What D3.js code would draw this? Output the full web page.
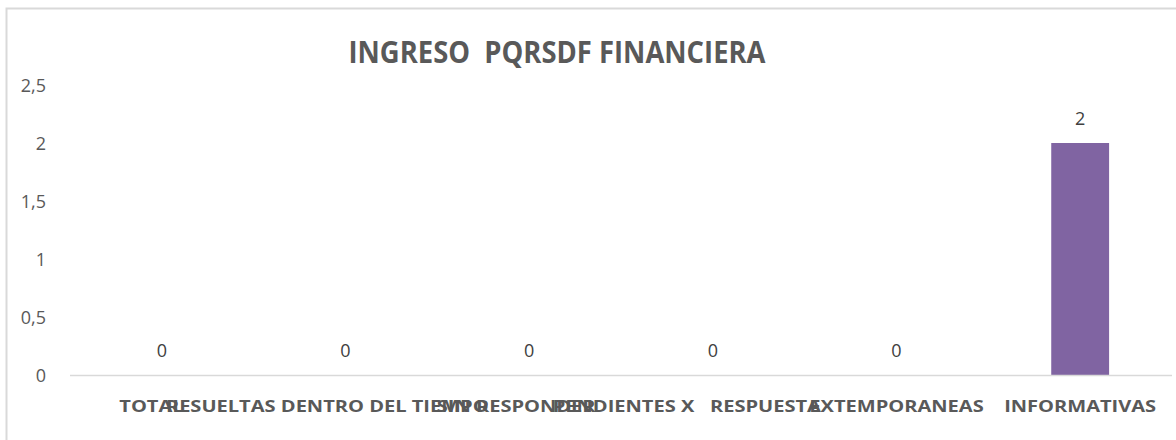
<!DOCTYPE html>
<html><head><meta charset="utf-8">
<script src="https://cdn.jsdelivr.net/npm/d3@7"></script>
<style>body{margin:0;background:#fff}svg{display:block}</style>
</head><body>
<svg id="c" width="1176" height="440"></svg>
<script>
const categories = ["TOTAL    ", "RESUELTAS DENTRO DEL TIEMPO       ", "SIN RESPONDER     ", "PENDIENTES X   RESPUESTA          ", "EXTEMPORANEAS", "INFORMATIVAS"];
const values = [0, 0, 0, 0, 0, 2];
const yTicks = [0, 0.5, 1, 1.5, 2, 2.5];
const title = "INGRESO  PQRSDF FINANCIERA";

const svg = d3.select("#c");
const font = "'Open Sans', Lato, sans-serif";
svg.append("rect").attr("x",6.5).attr("y",8.5).attr("width",1300).attr("height",600)
  .attr("fill","#fff").attr("stroke","#d9d9d9").attr("stroke-width",2);

const x = d3.scaleBand().domain(categories).range([70,1172]).paddingInner(0.685).paddingOuter(0.3425);
const y = d3.scaleLinear().domain([0,2.5]).range([375,85]);

svg.append("text").attr("x",557).attr("y",63).attr("text-anchor","middle")
  .attr("font-family",font).attr("font-weight","bold").attr("font-size",31).attr("fill","#595959")
  .attr("textLength",417).attr("lengthAdjust","spacingAndGlyphs")
  .style("white-space","pre").text(title);

const fmt = d => String(d).replace(".", ",");
const yAxis = d3.axisLeft(y).tickValues(yTicks).tickFormat(fmt).tickSize(0).tickPadding(0);
const gy = svg.append("g").attr("transform","translate(46,0)").call(yAxis);
gy.select(".domain").remove();
gy.selectAll("text").attr("font-family",font).attr("font-size",18).attr("fill","#595959").attr("dy","0.36em");

svg.selectAll("rect.bar").data(values).join("rect").attr("class","bar")
  .attr("x",(d,i)=>x(categories[i])).attr("width",x.bandwidth())
  .attr("y",d=>y(d)).attr("height",d=>y(0)-y(d)).attr("fill","#8064a2");

svg.append("line").attr("x1",70).attr("x2",1172).attr("y1",y(0)+0.5).attr("y2",y(0)+0.5)
  .attr("stroke","#d9d9d9").attr("stroke-width",1.5);

svg.selectAll("text.lbl").data(values).join("text").attr("class","lbl")
  .attr("x",(d,i)=>x(categories[i])+x.bandwidth()/2).attr("y",d=>y(d)-18)
  .attr("text-anchor","middle").attr("font-family",font).attr("font-size",18).attr("fill","#404040")
  .text(d=>fmt(d));

const xAxis = d3.axisBottom(x).tickSize(0).tickPadding(0);
const gx = svg.append("g").attr("transform","translate(0,412)").call(xAxis);
gx.select(".domain").remove();
gx.selectAll("text").attr("font-family",font).attr("font-weight","bold").attr("font-size",16)
  .attr("fill","#595959").attr("dy","0").style("white-space","pre");
let ref = 1;
gx.selectAll("text").each(function(d){ if(d==="INFORMATIVAS") ref = 152/this.getComputedTextLength(); });
gx.selectAll("text").each(function(){ const w=this.getComputedTextLength(); d3.select(this).attr("textLength",w*ref).attr("lengthAdjust","spacingAndGlyphs"); });
</script>
</body></html>
